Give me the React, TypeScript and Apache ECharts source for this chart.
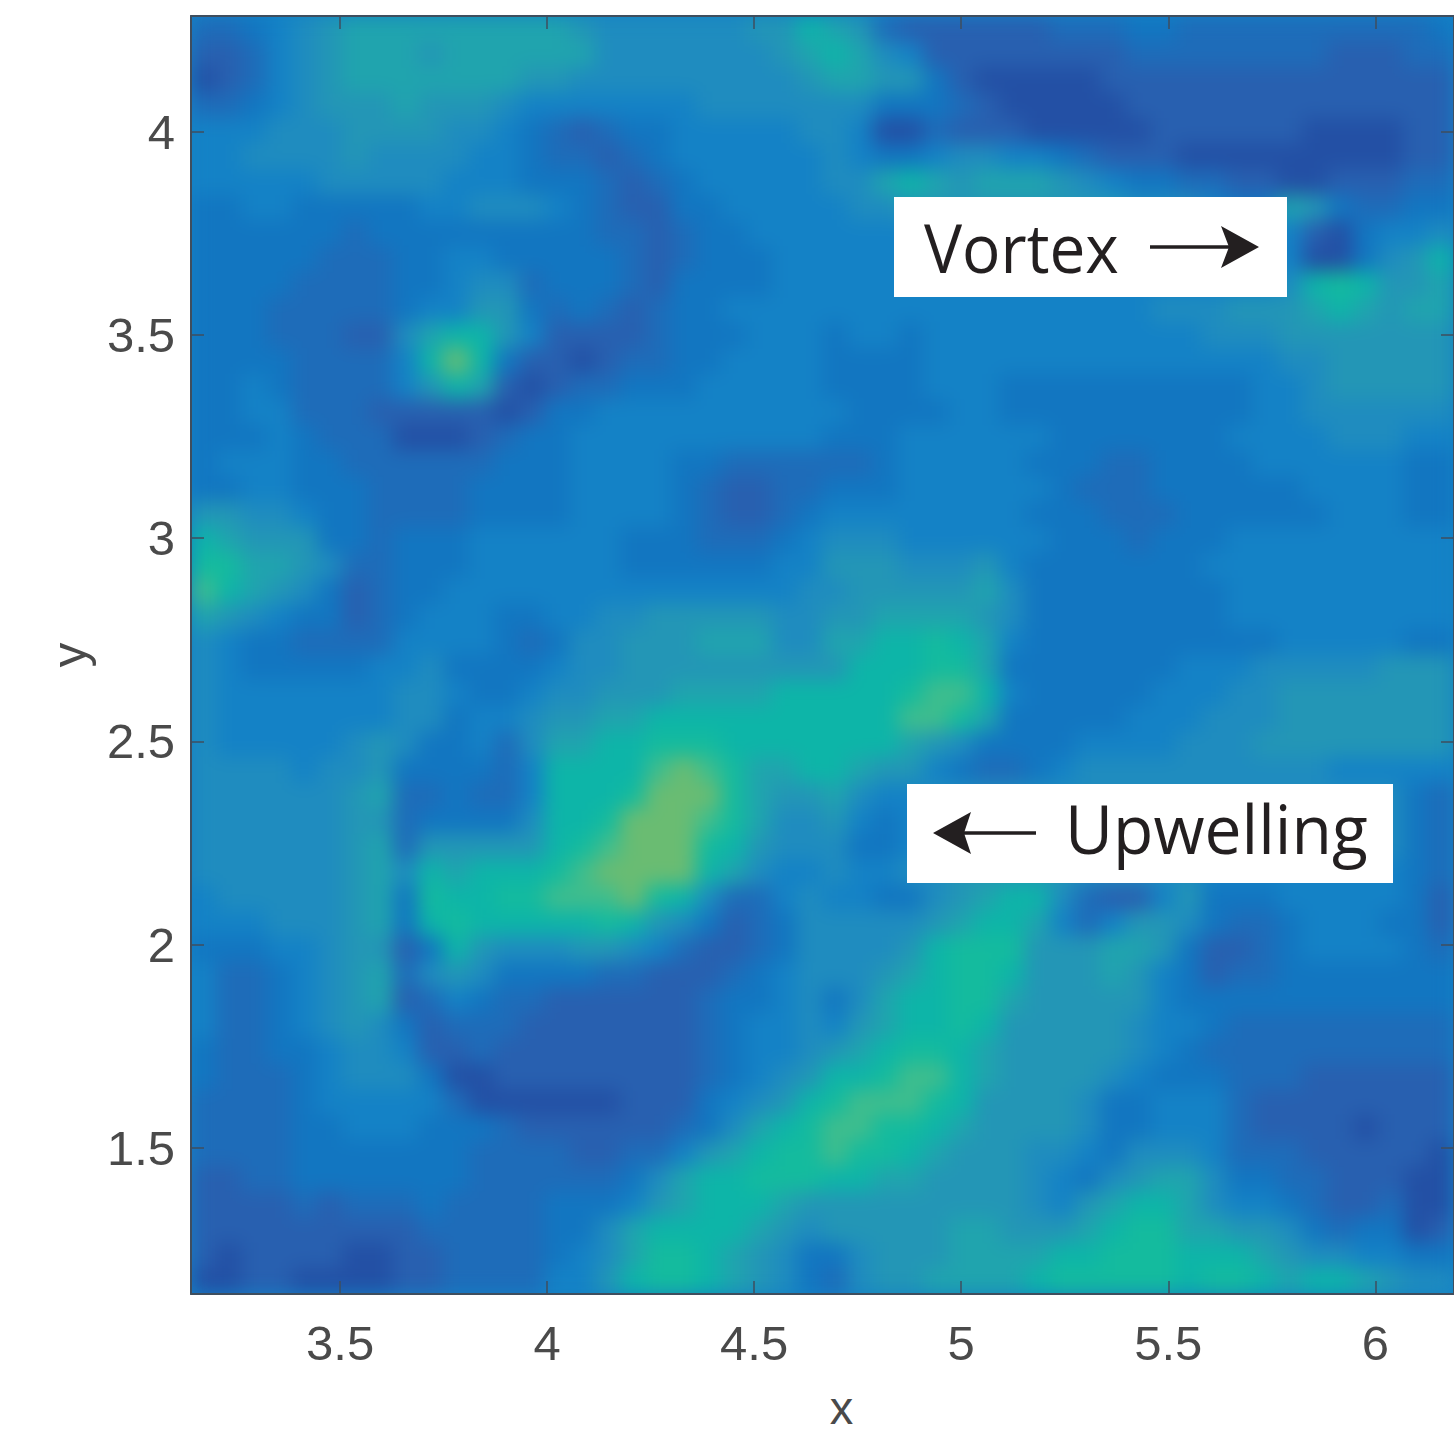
import React, { useEffect, useRef } from "react";
import * as echarts from "echarts";

// Levels: 0-9, a=10, b=11 (darkest blue -> light green). Each row = 25 cells.
const topLeft = [
  "22345 67777 77777 65555 55668","11245 67776 77777 75555 55567","01245 67777 77766 55555 55556",
  "22345 66676 66544 44444 55555","44455 56666 55432 12334 44445","44555 56555 54432 21234 44444",
  "44444 55555 44433 32123 44444","33443 33334 45554 32113 34444","33333 32333 33333 32212 33444",
  "33333 22233 44333 33212 33344","33332 22233 45523 33213 33344","33322 22234 46632 32123 34444",
  "33322 21157 88641 11123 33444","33332 22248 b8311 01223 34444","33432 22246 87101 22333 44444",
  "33442 22111 11013 34444 44444","33343 22200 01233 44444 44444","34443 32222 22333 44443 32222",
  "33443 33222 23333 44443 21122","66554 33222 23333 44443 21123","87666 33233 34444 44333 22234",
  "99776 52233 34444 44333 33344","a8765 31233 44444 44444 44445","76543 31234 44334 45566 66655",
  "54332 22244 44323 55666 77755",
];
const topRight = [
  "76211 11112 22332 22222 22223","87541 11111 11222 22222 11122","77663 10000 01111 11111 11111",
  "55333 21000 00111 11111 11111","54002 11100 00011 11110 00011","54334 55443 21110 00000 00011",
  "55787 67776 54332 21100 11122","45566 66666 66555 43376 32233","44444 44444 44444 44441 03445",
  "44444 44444 44444 44440 03568","44444 44444 44444 44458 98667","44444 44444 44455 56667 87677",
  "34434 44444 44444 55566 66666","33334 44444 44444 44455 66666","33334 44333 33333 33445 66666",
  "43333 44333 33333 33445 55555","33344 44443 33333 34444 55544","22344 44433 32233 33444 44433",
  "33344 44443 22233 33334 44433","44444 44433 32223 33333 44433","55544 44443 33233 34444 44444",
  "66655 56433 33333 44444 44444","56666 67533 33333 34444 44444","66777 76533 33333 34444 44444",
  "77889 87433 33333 33344 44433",
];
const bottomLeft = [
  "54333 33445 33334 55666 66666","54444 44455 43345 56667 77788","54444 44455 34456 67788 88888",
  "54444 45653 34257 78899 98888","55554 55633 33248 888ab a9778","55555 56722 32248 889bb b9766",
  "55555 56623 33358 89bbb a9755","55555 56726 66668 9abbb 98655","55555 56758 78889 abbbb 87544",
  "45555 56739 8899a aab98 52245","44455 56738 98888 89865 31235","33344 56613 86555 66542 11235",
  "42234 56725 65333 32211 12345","42234 56712 43221 11111 23345","42234 56531 22211 11111 23445",
  "32233 45541 12111 11111 23445","32223 45553 00111 11111 23456","22223 44444 20000 00111 34568",
  "22223 34443 33211 11112 35789","22223 33333 32222 11224 67899","11223 33333 32222 22357 88999",
  "11112 12223 22223 33467 88876","11111 11112 22223 35788 88765","10111 10011 22223 45799 87653",
  "00110 00011 22224 46899 87653",
];
const bottomRight = [
  "68889 97333 33334 44555 55666","8889a a8433 33344 45566 66666","888aa 97333 33444 55566 66666",
  "88876 53333 44445 55666 66666","87664 32234 55555 55555 44444","75445 55555 55555 55555 55532",
  "64345 55555 55555 55555 55532","53345 55555 55555 55555 55532","54455 66666 55555 44444 44432",
  "44335 67885 21146 33344 44431","55556 78874 24665 32234 44331","55568 99966 67763 11234 44432",
  "55678 99866 67643 12233 33333","35788 99766 66643 33333 33333","46788 98666 66544 32222 22222",
  "67899 87666 66543 22222 22222","889aa 87666 65433 32221 11111","9aaa9 86666 53344 42111 11111",
  "aa998 76666 53344 42111 10111","a9987 66655 43555 42221 11110","88776 66654 35677 53322 11100",
  "66666 66654 67887 54432 11200","66666 77666 78997 76653 23301","35666 77778 89998 88765 54433",
  "25667 77789 99998 99878 87655",
];
const palette = ["#2350a5","#2860b0","#1e6cb9","#1276c1","#1482c6","#1f8cbf","#2396b6","#20a4ae","#0db5a8","#14bb9e","#3fbd8d","#6abc72"];
const xTicks = [3.5, 4, 4.5, 5, 5.5, 6];
const yTicks = [1.5, 2, 2.5, 3, 3.5, 4];

const clean = (s: string) => s.replace(/ /g, "");
const rows = [
  ...topLeft.map((s, i) => clean(s) + clean(topRight[i])),
  ...bottomLeft.map((s, i) => clean(s) + clean(bottomRight[i])),
];
const cells: number[][] = [];
rows.forEach((row, r) => {
  for (let c = 0; c < row.length; c++) cells.push([c, r, parseInt(row[c], 16)]);
});
const colNames = rows[0].split("").map((_, i) => String(i));
const rowNames = rows.map((_, i) => String(i));

const PL = 191, PT = 16, PW = 1263, PH = 1278;
const TXT = "#4a4a4a", FRAME = "#3f4e5e";

export default function App() {
  const heatRef = useRef<HTMLDivElement>(null);
  const overRef = useRef<HTMLDivElement>(null);
  useEffect(() => {
    const heat = echarts.init(heatRef.current!, null, { renderer: "svg" });
    heat.setOption({
      animation: false,
      backgroundColor: "#1482c6",
      grid: { left: 0, top: 0, right: 0, bottom: 0 },
      xAxis: { type: "category", data: colNames, show: false },
      yAxis: { type: "category", data: rowNames, show: false, inverse: true },
      visualMap: { type: "continuous", min: 0, max: 11, show: false, seriesIndex: 0, inRange: { color: palette } },
      series: [{ type: "heatmap", data: cells, progressive: 0, emphasis: { disabled: true }, itemStyle: { borderWidth: 0 } }],
    });
    const over = echarts.init(overRef.current!, null, { renderer: "svg" });
    const commonLabel = { color: TXT, fontFamily: "Liberation Sans", fontSize: 49 };
    const mkX = (position: string, labels: boolean, name?: string) => ({
      type: "value", position, min: 3.14, max: 6.19, splitLine: { show: false },
      axisLine: { show: true, onZero: false, lineStyle: { color: FRAME, width: 2 } },
      axisTick: { show: true, inside: true, length: 13, customValues: xTicks, lineStyle: { color: FRAME, width: 1.5 } },
      axisLabel: { show: labels, margin: 24, customValues: xTicks, ...commonLabel },
      name, nameLocation: "middle", nameGap: 90,
      nameTextStyle: { ...commonLabel, fontSize: 47, padding: [0, 0, 0, 38] },
    });
    const mkY = (position: string, labels: boolean, name?: string) => ({
      type: "value", position, min: 1.14, max: 4.285, splitLine: { show: false },
      axisLine: { show: true, onZero: false, lineStyle: { color: FRAME, width: 2 } },
      axisTick: { show: true, inside: true, length: 13, customValues: yTicks, lineStyle: { color: FRAME, width: 1.5 } },
      axisLabel: { show: labels, margin: 16, customValues: yTicks, ...commonLabel },
      name, nameLocation: "middle", nameGap: 98,
      nameTextStyle: { ...commonLabel },
    });
    const annoFont = { fontFamily: "Open Sans", fontSize: 68, fill: "#231f20" };
    over.setOption({
      animation: false,
      backgroundColor: "transparent",
      grid: { left: PL, top: PT, width: PW, height: PH, outerBoundsMode: "none" },
      xAxis: [mkX("bottom", true, "x"), mkX("top", false)],
      yAxis: [mkY("left", true, "y"), mkY("right", false)],
      series: [{ type: "scatter", data: [], xAxisIndex: 0, yAxisIndex: 0 }],
      graphic: [
        { type: "rect", shape: { x: 894, y: 197, width: 393, height: 100 }, style: { fill: "#fff" }, z: 10 },
        { type: "text", x: 924, y: 246, scaleX: 0.94, style: { text: "Vortex", verticalAlign: "middle", textAlign: "left", ...annoFont }, z: 11 },
        { type: "line", shape: { x1: 1150, y1: 247, x2: 1232, y2: 247 }, style: { stroke: "#231f20", lineWidth: 3.5 }, z: 11 },
        { type: "polygon", shape: { points: [[1221, 226], [1259, 247], [1221, 268], [1229, 247]] }, style: { fill: "#231f20" }, z: 11 },
        { type: "rect", shape: { x: 907, y: 784, width: 486, height: 99 }, style: { fill: "#fff" }, z: 10 },
        { type: "text", x: 1065, y: 828, scaleX: 0.97, style: { text: "Upwelling", verticalAlign: "middle", textAlign: "left", ...annoFont }, z: 11 },
        { type: "line", shape: { x1: 962, y1: 833, x2: 1036, y2: 833 }, style: { stroke: "#231f20", lineWidth: 3.5 }, z: 11 },
        { type: "polygon", shape: { points: [[971, 812], [933, 833], [971, 854], [964, 833]] }, style: { fill: "#231f20" }, z: 11 },
      ],
    });
    return () => { heat.dispose(); over.dispose(); };
  }, []);
  return (
    <div style={{ position: "absolute", left: 0, top: 0, width: 1454, height: 1436, background: "#fff", overflow: "hidden" }}>
      <div style={{ position: "absolute", left: PL, top: PT, width: PW, height: PH, overflow: "hidden", background: "#1482c6" }}>
        <div ref={heatRef} style={{ width: PW, height: PH, filter: "blur(10px)" }} />
      </div>
      <div ref={overRef} style={{ position: "absolute", left: 0, top: 0, width: 1454, height: 1436 }} />
    </div>
  );
}
